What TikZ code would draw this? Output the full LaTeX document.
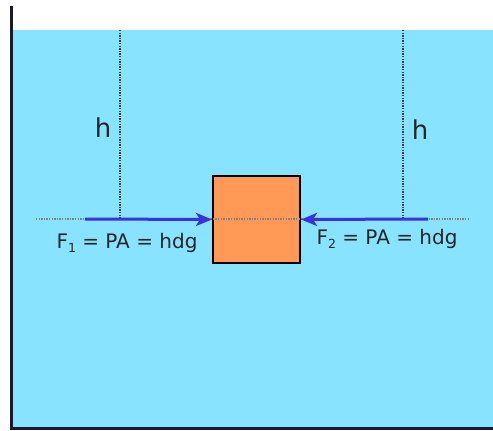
\documentclass[tikz,border=0pt]{standalone}
\usepackage{fontspec}
\setmainfont{DejaVu Sans}
\usetikzlibrary{arrows.meta}
\definecolor{water}{RGB}{135,227,255}
\definecolor{block}{RGB}{255,153,85}
\definecolor{force}{RGB}{60,50,220}
\definecolor{wall}{RGB}{26,26,40}
\newcommand{\sub}[1]{\raisebox{-0.35ex}{\fontsize{12.5}{13}\selectfont #1}}
\tikzset{
  dotline/.style={draw=black!75, dash pattern=on 1.3pt off 1.3pt, line width=1.4pt},
  forcearrow/.style={draw=force, line width=3pt, -{Stealth[length=16pt,width=13pt,inset=4pt]}},
  lbl/.style={font=\fontsize{20}{22}\selectfont, text=black!85, inner sep=0pt},
  hlbl/.style={font=\fontsize{26}{28}\selectfont, text=black!85, inner sep=0pt}
}
\begin{document}
\begin{tikzpicture}[x=1pt,y=-1pt]
\useasboundingbox (0,0) rectangle (493,431);
\fill[white] (0,0) rectangle (493,431);
\fill[water] (11,30) rectangle (493,428);
\draw[wall, line width=3pt] (11,6) -- (11,428) -- (494,428);
% block
\node[draw=black, line width=2pt, fill=block, minimum width=87pt, minimum height=87pt, inner sep=0pt] (blk) at (256.5,219.5) {};
% coordinates
\coordinate (hl0) at (36,219);
\coordinate (hr0) at (468,219);
\coordinate (vl0) at (120,30);
\coordinate (vl1) at (120,219);
\coordinate (vr0) at (403,30);
\coordinate (vr1) at (403,219);
\coordinate (al) at (85,219);
\coordinate (ar) at (428,219);
\draw[dotline, draw=black!50, line width=1.3pt] (hl0) -- (hr0);
\draw[dotline] (vl0) -- (vl1);
\draw[dotline] (vr0) -- (vr1);
\draw[forcearrow] (al) -- (blk.west);
\draw[forcearrow] (ar) -- (blk.east);
\node[hlbl] (h1) at (103,128) {h};
\node[hlbl] (h2) at (420,130) {h};
\node[lbl] (f1) at (127,243) {F\sub{1} = PA = hdg};
\node[lbl] (f2) at (387,239) {F\sub{2} = PA = hdg};
\end{tikzpicture}
\end{document}
